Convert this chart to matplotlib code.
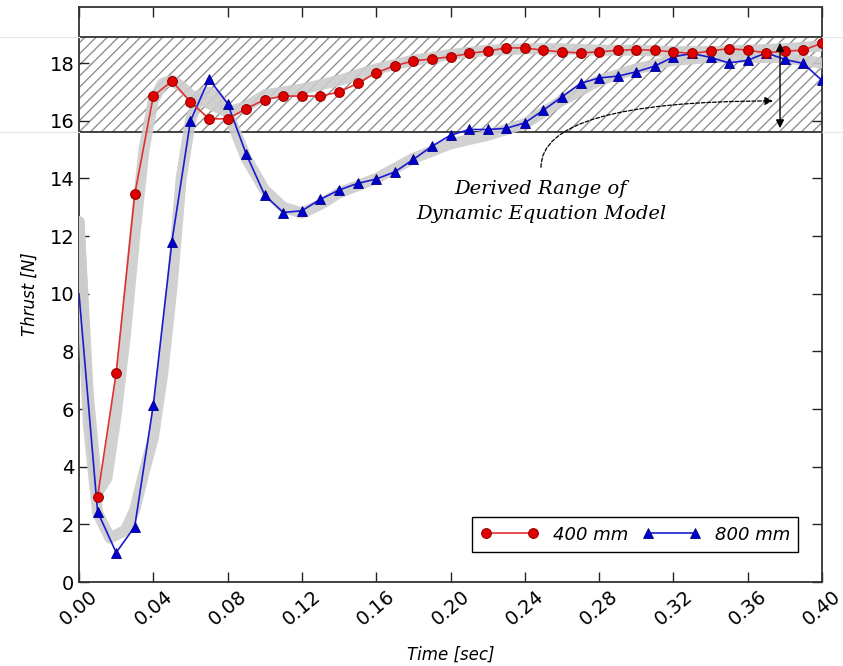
import numpy as np
import matplotlib
matplotlib.use("Agg")
import matplotlib.pyplot as plt
import matplotlib.transforms as mtransforms
from matplotlib.lines import Line2D

# ---------------- data ----------------
t_red = [0.01, 0.02, 0.03, 0.04, 0.05, 0.06, 0.07, 0.08, 0.09, 0.10,
         0.11, 0.12, 0.13, 0.14, 0.15, 0.16, 0.17, 0.18, 0.19, 0.20,
         0.21, 0.22, 0.23, 0.24, 0.25, 0.26, 0.27, 0.28, 0.29, 0.30,
         0.31, 0.32, 0.33, 0.34, 0.35, 0.36, 0.37, 0.38, 0.39, 0.40]
y_red = [2.95, 7.25, 13.45, 16.86, 17.38, 16.66, 16.07, 16.07, 16.42, 16.74,
         16.86, 16.86, 16.86, 17.0, 17.3, 17.67, 17.91, 18.08, 18.15, 18.22,
         18.34, 18.42, 18.53, 18.53, 18.45, 18.39, 18.36, 18.39, 18.45, 18.47,
         18.45, 18.39, 18.34, 18.42, 18.51, 18.45, 18.36, 18.42, 18.45, 18.7]

t_blue = [0.00, 0.01, 0.02, 0.03, 0.04, 0.05, 0.06, 0.07, 0.08, 0.09, 0.10,
          0.11, 0.12, 0.13, 0.14, 0.15, 0.16, 0.17, 0.18, 0.19, 0.20,
          0.21, 0.22, 0.23, 0.24, 0.25, 0.26, 0.27, 0.28, 0.29, 0.30,
          0.31, 0.32, 0.33, 0.34, 0.35, 0.36, 0.37, 0.38, 0.39, 0.40]
y_blue = [10.0, 2.44, 1.02, 1.92, 6.14, 11.8, 16.0, 17.45, 16.6, 14.85, 13.42,
          12.82, 12.88, 13.28, 13.6, 13.83, 13.98, 14.23, 14.66, 15.12, 15.5,
          15.7, 15.7, 15.74, 15.93, 16.37, 16.83, 17.3, 17.49, 17.55, 17.7,
          17.9, 18.22, 18.34, 18.2, 18.01, 18.1, 18.36, 18.13, 17.99, 17.4]

# grey model curves (thick background bands)
t_model_a = [0.0, 0.005, 0.01, 0.015, 0.02, 0.025, 0.03, 0.035, 0.04, 0.045,
             0.05, 0.055, 0.06, 0.07, 0.08, 0.09, 0.10, 0.12, 0.14, 0.16,
             0.18, 0.20, 0.22, 0.24, 0.26, 0.28, 0.30, 0.32, 0.34, 0.36,
             0.38, 0.40]
y_model_a = [12.5, 6.5, 3.1, 3.6, 5.8, 8.6, 12.0, 15.0, 16.7, 17.3,
             17.4, 17.2, 16.9, 16.6, 16.3, 16.5, 16.9, 17.1, 17.4, 17.8,
             18.1, 18.3, 18.45, 18.5, 18.5, 18.45, 18.45, 18.4, 18.4, 18.45,
             18.5, 18.6]
t_model_b = [0.0, 0.005, 0.01, 0.0167, 0.025, 0.03, 0.035, 0.04, 0.045, 0.05,
             0.055, 0.06, 0.065, 0.07, 0.075, 0.08, 0.09, 0.10, 0.11, 0.12,
             0.13, 0.14, 0.16, 0.18, 0.20, 0.22, 0.24, 0.26, 0.28, 0.30,
             0.32, 0.34, 0.36, 0.38, 0.40]
y_model_b = [12.5, 5.5, 2.4, 1.52, 1.8, 2.5, 3.8, 5.0, 7.2, 10.2,
             14.0, 16.0, 16.9, 17.0, 16.8, 16.3, 14.7, 13.6, 13.0, 12.8,
             13.1, 13.5, 14.0, 14.7, 15.2, 15.5, 15.9, 16.7, 17.4, 17.8,
             18.1, 18.2, 18.2, 18.2, 18.0]

range_low, range_high = 15.6, 18.9
x_ticks = [0.00, 0.04, 0.08, 0.12, 0.16, 0.20, 0.24, 0.28, 0.32, 0.36, 0.40]
y_ticks = [0, 2, 4, 6, 8, 10, 12, 14, 16, 18]
labels = ["400 mm", "800 mm"]

# ---------------- plot ----------------
plt.rcParams['hatch.linewidth'] = 1.0
plt.rcParams['hatch.color'] = '#909090'

fig = plt.figure(figsize=(8.43, 6.66), dpi=100)
ax = fig.add_axes([79/843, 84/666, 743/843, 575/666])

ax.set_xlim(0, 0.40)
ax.set_ylim(0, 19.95)

# hatched derived range
ax.fill_between([0, 0.40], range_low, range_high, facecolor='white',
                hatch='///', edgecolor='#909090', linewidth=0, zorder=1)
ax.axhline(range_low, color='#333333', lw=1.3, zorder=2)
ax.axhline(range_high, color='#333333', lw=1.3, zorder=2)

# grey model bands
for tm, ym in ((t_model_a, y_model_a), (t_model_b, y_model_b)):
    ax.plot(tm, ym, color='#cccccc', lw=8, alpha=0.9,
            solid_capstyle='round', solid_joinstyle='round', zorder=3)

ax.plot(t_red, y_red, color='#e03030', lw=1.2, marker='o', markersize=7,
        markerfacecolor='#e00000', markeredgecolor='#990000', markeredgewidth=0.8,
        label=labels[0], zorder=5)
ax.plot(t_blue, y_blue, color='#1a1ad0', lw=1.2, marker='^', markersize=7,
        markerfacecolor='#0000cc', markeredgecolor='#000088', markeredgewidth=0.6,
        markevery=list(range(1, len(t_blue))), label=labels[1], zorder=4)

# annotations
ax.annotate('', xy=(0.3774, range_low + 0.05), xytext=(0.3774, range_high - 0.1),
            arrowprops=dict(arrowstyle='<|-|>', color='black', lw=1.0,
                            mutation_scale=12), zorder=6)
ax.annotate('', xy=(0.3736, 16.69), xytext=(0.2487, 14.39),
            arrowprops=dict(arrowstyle='-|>', color='black', lw=0.9,
                            linestyle=(0, (3, 1.5)), mutation_scale=12,
                            connectionstyle='angle3,angleA=90,angleB=0',
                            shrinkA=0, shrinkB=0),
            zorder=6)
ax.text(0.2487, 13.2, 'Derived Range of\nDynamic Equation Model',
        ha='center', va='center', fontsize=14, style='italic',
        family='DejaVu Serif', linespacing=1.45, zorder=6)

ax.set_xticks(x_ticks)
ax.set_xticklabels([f"{v:.2f}" for v in x_ticks], rotation=40, ha='center',
                   fontsize=14)
offset = mtransforms.ScaledTranslation(-6/100, 0, fig.dpi_scale_trans)
for lab in ax.get_xticklabels():
    lab.set_transform(lab.get_transform() + offset)
ax.set_yticks(y_ticks)
ax.set_yticklabels([str(v) for v in y_ticks], fontsize=14)
ax.tick_params(direction='in', length=7, width=1, top=True, right=True,
               colors='#222222', labelcolor='black')
for s in ax.spines.values():
    s.set_linewidth(1.3)
    s.set_color('#333333')

ax.set_xlabel('Time [sec]', fontsize=12, style='italic', labelpad=12)
ax.set_ylabel('Thrust [N]', fontsize=12, style='italic', labelpad=8)

leg = ax.legend(loc='lower right', ncol=2, prop={'style': 'italic', 'size': 13},
                fancybox=False, edgecolor='black', framealpha=1, numpoints=2,
                bbox_to_anchor=(0.980, 0.037), handlelength=3.2,
                columnspacing=0.8, handletextpad=0.8, borderpad=0.45)
leg.get_frame().set_linewidth(1.0)

# faint image-edge lines outside axes
for yy in (range_low, range_high):
    yf = ax.transData.transform((0, yy))[1] / fig.bbox.height
    fig.add_artist(Line2D([0, 79/843], [yf, yf], color='#e6e6e6', lw=0.8))
    fig.add_artist(Line2D([822/843, 1], [yf, yf], color='#e6e6e6', lw=0.8))

fig.savefig('out.png', dpi=100)
